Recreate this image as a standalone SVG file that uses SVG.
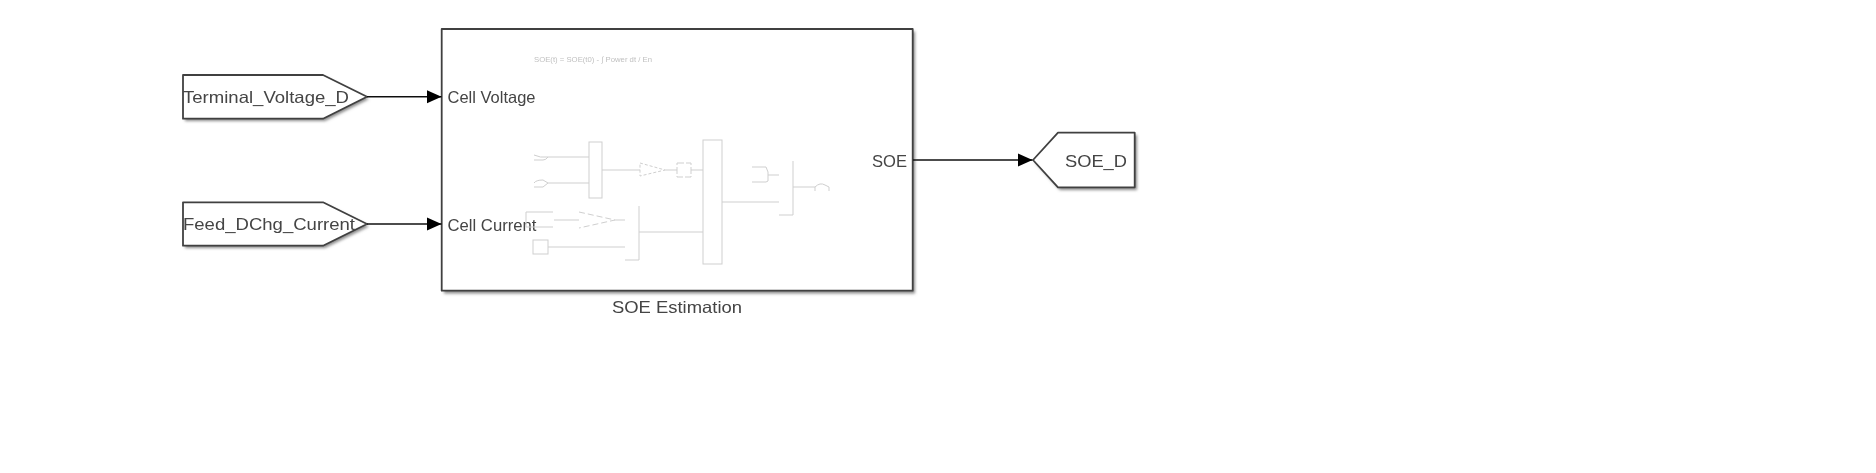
<svg xmlns="http://www.w3.org/2000/svg" width="1876" height="473" viewBox="0 0 1876 473">
<defs>
<filter id="soft" x="-5%" y="-5%" width="110%" height="110%"><feGaussianBlur stdDeviation="0.55"/></filter>
<filter id="shadow" x="-10%" y="-10%" width="120%" height="120%"><feGaussianBlur stdDeviation="1.4"/></filter>
<marker id="arrow" markerUnits="userSpaceOnUse" markerWidth="15" markerHeight="14" refX="14.5" refY="7" orient="auto"><path d="M0,0.5 L14.5,7 L0,13.5 Z" fill="#000"/></marker>
</defs>
<style>
.box{fill:#fff;stroke:#404040;stroke-width:1.8;stroke-linejoin:round}
.sh{fill:#8a8a8a;stroke:none;filter:url(#shadow)}
.lbl{font-family:"Liberation Sans",Arial,sans-serif;font-size:16.5px;fill:#444}
.wire{fill:none;stroke:#111;stroke-width:1.4;marker-end:url(#arrow)}
.in{fill:none;stroke:#cfcfcf;stroke-width:1}
.tiny{font-family:"Liberation Sans",Arial,sans-serif;font-size:7.5px;fill:#c0c0c0}
</style>
<rect width="1876" height="473" fill="#fff"/>
<g filter="url(#soft)">
<g id="terminal-voltage">
<path class="sh" d="M185,77.500 H325 L369,99 L325,121 H185 Z"/>
<path class="box" d="M183,75 H323 L367,96.700 L323,118.700 H183 Z"/>
<text class="lbl" x="183" y="102.500" textLength="166" lengthAdjust="spacingAndGlyphs">Terminal_Voltage_D</text>
</g>
<g id="feed-dchg-current">
<path class="sh" d="M185,204.500 H325 L369,226.500 L325,248 H185 Z"/>
<path class="box" d="M183,202.300 H323 L367,224 L323,245.700 H183 Z"/>
<text class="lbl" x="183" y="229.500" textLength="172" lengthAdjust="spacingAndGlyphs">Feed_DChg_Current</text>
</g>
<g id="soe-estimation">
<rect class="sh" x="444" y="31.500" width="471" height="262"/>
<rect class="box" x="441.700" y="29" width="471" height="261.700"/>
<text class="lbl" x="447.500" y="102.500" textLength="88" lengthAdjust="spacingAndGlyphs">Cell Voltage</text>
<text class="lbl" x="447.500" y="230.500" textLength="89" lengthAdjust="spacingAndGlyphs">Cell Current</text>
<text class="lbl" x="907" y="166.500" text-anchor="end" textLength="35" lengthAdjust="spacingAndGlyphs">SOE</text>
<text class="lbl" x="677" y="313" text-anchor="middle" textLength="130" lengthAdjust="spacingAndGlyphs">SOE Estimation</text>
<text class="tiny" x="534" y="62" textLength="118" lengthAdjust="spacingAndGlyphs">SOE(t) = SOE(t0) - ∫ Power dt / En</text>
<g id="inner-model">
<path class="in" d="M534,155 Q540,158 548,157 Q546,160 543,160 H534"/>
<path class="in" d="M534,183 Q536,180 543,180 L548,183 L543,187 H534"/>
<path class="in" d="M548,157 H589 M548,183 H589"/>
<rect class="in" x="589" y="142" width="13" height="56"/>
<path class="in" d="M602,170 H640"/>
<path class="in" d="M640,163 L665,170 L640,176 Z" stroke-dasharray="3 2"/>
<path class="in" d="M665,170 H677"/>
<path class="in" d="M677,163 H691 V177 H677 Z" stroke-dasharray="7 2"/>
<path class="in" d="M691,170 H703"/>
<rect class="in" x="703" y="140" width="19" height="124"/>
<path class="in" d="M752,167 H766 L768,172 V181 L766,182 H752"/>
<path class="in" d="M768,175 H779"/>
<path class="in" d="M722,202 H779"/>
<path class="in" d="M793,161 V215 H779 M793,187 H815"/>
<path class="in" d="M815,187 Q820,182 825,185 L829,187 V191 M815,187 V191"/>
<path class="in" d="M526,212 H553 M526,212 V227 M553,227 H526"/>
<path class="in" d="M554,220 H579"/>
<path class="in" d="M579,212 L615,220 L579,228" stroke-dasharray="6 3"/>
<path class="in" d="M615,220 H625"/>
<rect class="in" x="533" y="240" width="15" height="14"/>
<path class="in" d="M548,247 H625"/>
<path class="in" d="M639,206 V260 H625"/>
<path class="in" d="M639,232 H703"/>
</g>
</g>
<g id="soe-d">
<path class="sh" d="M1060,135 H1137 V190 H1060 L1035,162 Z"/>
<path class="box" d="M1058,132.700 H1134.700 V187.300 H1058 L1033,160 Z"/>
<text class="lbl" x="1065" y="166.500" textLength="62" lengthAdjust="spacingAndGlyphs">SOE_D</text>
</g>
<g id="connectors">
<path class="wire" d="M367,96.700 H441.500"/>
<path class="wire" d="M367,224 H441.500"/>
<path class="wire" d="M913,160 H1032.500"/>
</g>
</g>
</svg>
